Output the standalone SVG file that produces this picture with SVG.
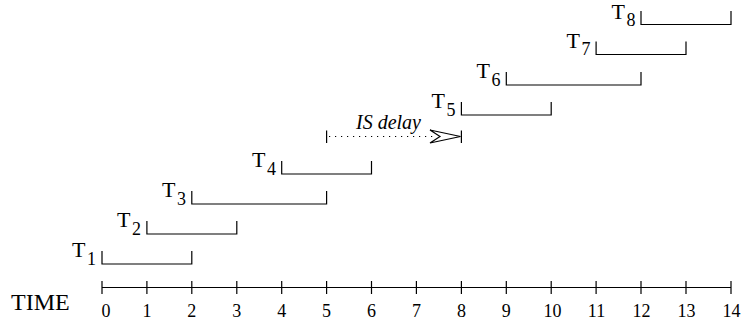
<svg xmlns="http://www.w3.org/2000/svg" width="742" height="322" viewBox="0 0 742 322">
<style>
.ln{fill:none;stroke:#000;stroke-width:1.2}
.t{font-family:"Liberation Serif","Times New Roman",serif;fill:#000}
.T{font-size:22px}
.s{font-size:18px}
.n{font-size:18px;text-anchor:middle}
.tm{font-size:24px}
.it{font-size:20px;font-style:italic}
</style>
<rect width="742" height="322" fill="#fff"/>
<g id="axis">
<path class="ln" d="M102,287.5H731M102,281V294M146.9,281V294M191.8,281V294M236.8,281V294M281.7,281V294M326.6,281V294M371.5,281V294M416.4,281V294M461.4,281V294M506.3,281V294M551.2,281V294M596.1,281V294M641,281V294M686,281V294M731,281V294"/>
<text class="t tm" x="11" y="310">TIME</text>
<g class="t n">
<text x="106" y="317">0</text><text x="146.9" y="317">1</text><text x="191.8" y="317">2</text><text x="236.8" y="317">3</text><text x="281.7" y="317">4</text><text x="326.6" y="317">5</text><text x="371.5" y="317">6</text><text x="416.4" y="317">7</text><text x="461.4" y="317">8</text><text x="506.3" y="317">9</text><text x="552.5" y="317">10</text><text x="596.5" y="317">11</text><text x="641.5" y="317">12</text><text x="686.5" y="317">13</text><text x="731.5" y="317">14</text>
</g>
</g>
<g id="T1"><path class="ln" d="M102,251V264H191.8V251"/><text class="t T" x="72" y="257">T</text><text class="t s" x="87" y="264.5">1</text></g>
<g id="T2"><path class="ln" d="M146.9,221V234H236.8V221"/><text class="t T" x="117" y="227">T</text><text class="t s" x="132" y="234.5">2</text></g>
<g id="T3"><path class="ln" d="M191.8,191V204H326.6V191"/><text class="t T" x="162" y="197">T</text><text class="t s" x="177" y="204.5">3</text></g>
<g id="T4"><path class="ln" d="M281.7,161V174H371.5V161"/><text class="t T" x="252" y="167">T</text><text class="t s" x="267" y="174.5">4</text></g>
<g id="T5"><path class="ln" d="M461.4,102V115H551.2V102"/><text class="t T" x="431.5" y="108">T</text><text class="t s" x="446.5" y="115.5">5</text></g>
<g id="T6"><path class="ln" d="M506.3,72V85H641V72"/><text class="t T" x="476.5" y="78">T</text><text class="t s" x="491.5" y="85.5">6</text></g>
<g id="T7"><path class="ln" d="M596.1,41.5V54.5H686V41.5"/><text class="t T" x="566.5" y="47.5">T</text><text class="t s" x="581.5" y="55">7</text></g>
<g id="T8"><path class="ln" d="M641,11V24.5H731V11"/><text class="t T" x="611.5" y="19">T</text><text class="t s" x="626.5" y="25.5">8</text></g>
<g id="connectors">
<path class="ln" d="M326.6,130.5V143M461.4,130.5V143"/>
<path class="ln" d="M329,136.5H434" stroke-dasharray="1.2,4.8"/>
<path class="ln" d="M430,130L460.5,136.5L430,143L440,136.5Z" fill="#fff"/>
<text class="t it" x="356" y="129">IS delay</text>
</g>
</svg>
